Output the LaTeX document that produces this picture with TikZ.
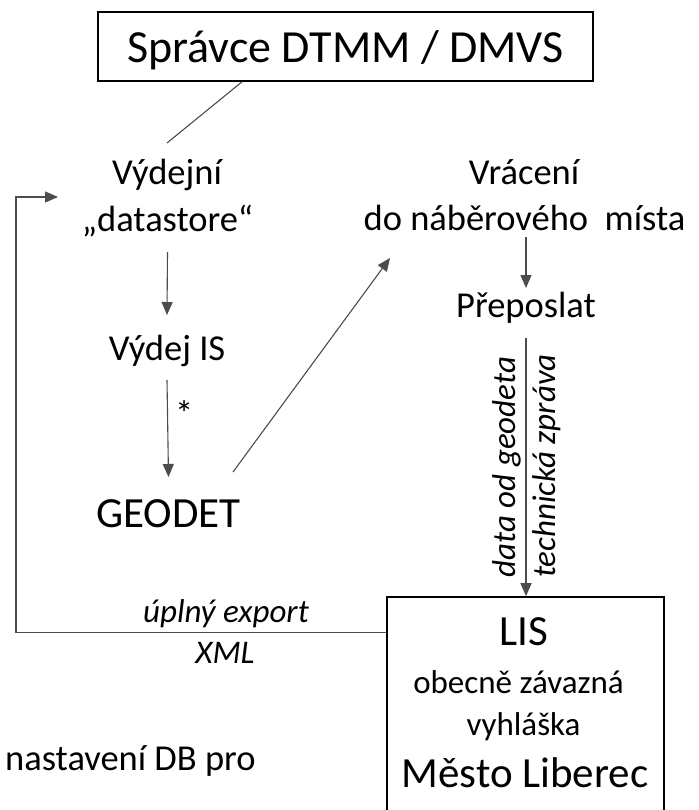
\documentclass[tikz,border=0pt]{standalone}
\usepackage{fontspec}
\setmainfont{Carlito}
\usetikzlibrary{arrows.meta,calc}
\begin{document}
\begin{tikzpicture}[x=1pt,y=-1pt,
  lbl/.style={inner sep=0pt,font=\fontsize{36.5}{44}\selectfont},
  big/.style={inner sep=0pt,font=\fontsize{43}{50}\selectfont},
  it/.style={inner sep=0pt,font=\fontsize{33}{40}\selectfont\itshape},
  sm/.style={inner sep=0pt,font=\fontsize{33}{40}\selectfont},
  boxx/.style={draw=black,line width=1.6pt,inner sep=0pt},
  conn/.style={draw=black!70,line width=1.1pt},
  arr/.style={conn,-{Triangle[length=13pt,width=11pt]}}]
\clip (0,0) rectangle (698,810);
\fill[white] (0,0) rectangle (698,810);
% top box
\node[boxx,minimum width=495pt,minimum height=69pt,text height=33pt,text depth=0pt,
  font=\fontsize{46}{52}\selectfont] (admin) at (345.5,46.5) {Správce DTMM / DMVS};
% left column
\node[lbl,anchor=base] (vyd) at (167,185) {Výdejní};
\node[lbl,anchor=base] (ds) at (167.5,231) {„datastore“};
\node[lbl,anchor=base] (vis) at (167,360) {Výdej IS};
\node[lbl,anchor=base west] (star) at (175,426) {*};
\node[big,anchor=base] (geo) at (168.5,527) {GEODET};
% right column
\node[lbl,anchor=base] (vr) at (524,185) {Vrácení};
\node[lbl,anchor=base] (dn) at (524.5,230) {do náběrového\ \ místa};
\node[lbl,anchor=base] (prep) at (526,317) {Přeposlat};
% rotated labels
\node[it,rotate=90,anchor=base] (dg) at (515,467) {data od geodeta};
\node[it,rotate=90,anchor=base] (tz) at (555,466) {technická zpráva};
% LIS box
\node[boxx,minimum width=277pt,minimum height=240pt] (lis) at (525.5,717) {};
\node[big,anchor=base] (lisT) at (524,645) {LIS};
\node[sm,anchor=base] (oz) at (518.5,693) {obecně závazná};
\node[sm,anchor=base] (vh) at (523.5,735) {vyhláška};
\node[big,anchor=base] (ml) at (525,787) {Město Liberec};
% bottom left
\node[lbl,anchor=base west] (nast) at (5,770) {nastavení DB pro};
% loop labels
\node[it,anchor=base] (ue) at (226,622) {úplný export};
\node[it,anchor=base] (xml) at (225,663) {XML};
\coordinate (loopc) at (16,197);
% connectors
\draw[conn] ([xshift=-103.5pt]admin.south) -- ([yshift=42pt]vyd.base);
\draw[arr] ([yshift=-21pt]ds.base) -- ([yshift=45pt]vis.base);
\draw[arr] ([yshift=-20pt]vis.base) -- ([yshift=50pt]geo.base);
\draw[arr] ([xshift=64.5pt,yshift=55pt]geo.base) -- ([xshift=-134.5pt,yshift=-28pt]dn.base);
\draw[arr] ($(prep.base |- dn.base)+(0,7)$) -- ([yshift=29pt]prep.base);
\draw[arr] ([yshift=-21pt]prep.base) -- (prep.base |- lis.north);
\draw[arr] ([yshift=-36pt]lis.north west) -| (loopc) -- ([xshift=-109pt,yshift=-12pt]vyd.base);
\end{tikzpicture}
\end{document}
